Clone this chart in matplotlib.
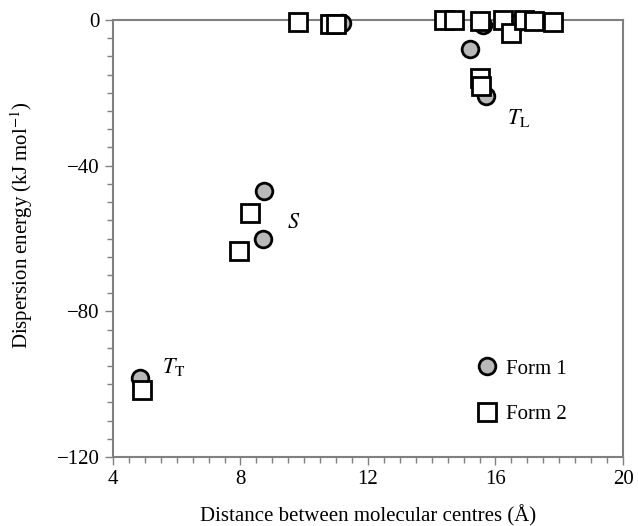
import matplotlib
matplotlib.use("Agg")
import matplotlib.pyplot as plt
from matplotlib.ticker import MultipleLocator

plt.rcParams['font.family'] = ['Liberation Serif', 'DejaVu Serif']
plt.rcParams['mathtext.fontset'] = 'stix'

form1_x = [4.85, 8.75, 8.7, 11.2, 15.2, 15.7, 15.6, 16.7]
form1_y = [-98.3, -47.0, -60.0, -0.8, -8.0, -21.0, -1.5, -0.5]
form2_x = [4.9, 8.3, 7.95, 9.8, 10.8, 11.0, 14.4, 14.7, 15.5, 16.25, 16.5, 16.9, 17.2, 17.8, 15.5, 15.55]
form2_y = [-101.6, -53.0, -63.5, -0.5, -1.0, -1.0, 0.0, 0.0, -0.2, 0.0, -3.5, 0.0, -0.2, -0.5, -16.0, -18.0]

fig = plt.figure(figsize=(6.38, 5.26), dpi=100)
ax = fig.add_axes([0.177, 0.131, 0.7995, 0.831])

ax.plot(form1_x, form1_y, 'o', ms=12, mfc='#b8b8b8', mec='black', mew=2, label='Form 1', zorder=3, clip_on=False)
ax.plot(form2_x, form2_y, 's', ms=12.5, mfc='white', mec='black', mew=2, label='Form 2', zorder=4, clip_on=False)

ax.set_xlim(4, 20)
ax.set_ylim(-120, 0)
ax.xaxis.set_minor_locator(MultipleLocator(0.5))
ax.yaxis.set_minor_locator(MultipleLocator(5))
ax.tick_params(which='both', direction='out', colors='#808080', labelcolor='black', labelsize=15, width=1)
ax.tick_params(which='major', length=6)
ax.tick_params(which='minor', length=4)
ax.set_xticks([4, 8, 12, 16, 20])
ax.set_xticklabels(['4', '8', '12', '16', '20'])
ax.set_yticks([0, -40, -80, -120])
ax.set_yticklabels(['0', '\u221240', '\u221280', '\u2212120'])
for s in ax.spines.values():
    s.set_color('#808080')
    s.set_linewidth(1.5)

ax.set_xlabel('Distance between molecular centres (Å)', fontsize=15, labelpad=11)
ax.set_ylabel('Dispersion energy (kJ mol$^{-1}$)', fontsize=15)
ax.yaxis.set_label_coords(-0.152, 0.53)

ax.text(5.55, -97, r'$T_{\mathrm{T}}$', fontsize=16)
ax.text(9.45, -57, r'$S$', fontsize=16)
ax.text(16.35, -28.5, r'$T_{\mathrm{L}}$', fontsize=16)

leg = ax.legend(loc='lower right', frameon=False, fontsize=15, handletextpad=0.3,
                handlelength=1.2, labelspacing=1.25, bbox_to_anchor=(0.926, 0.032),
                numpoints=1)

fig.savefig('out.png', dpi=100)
